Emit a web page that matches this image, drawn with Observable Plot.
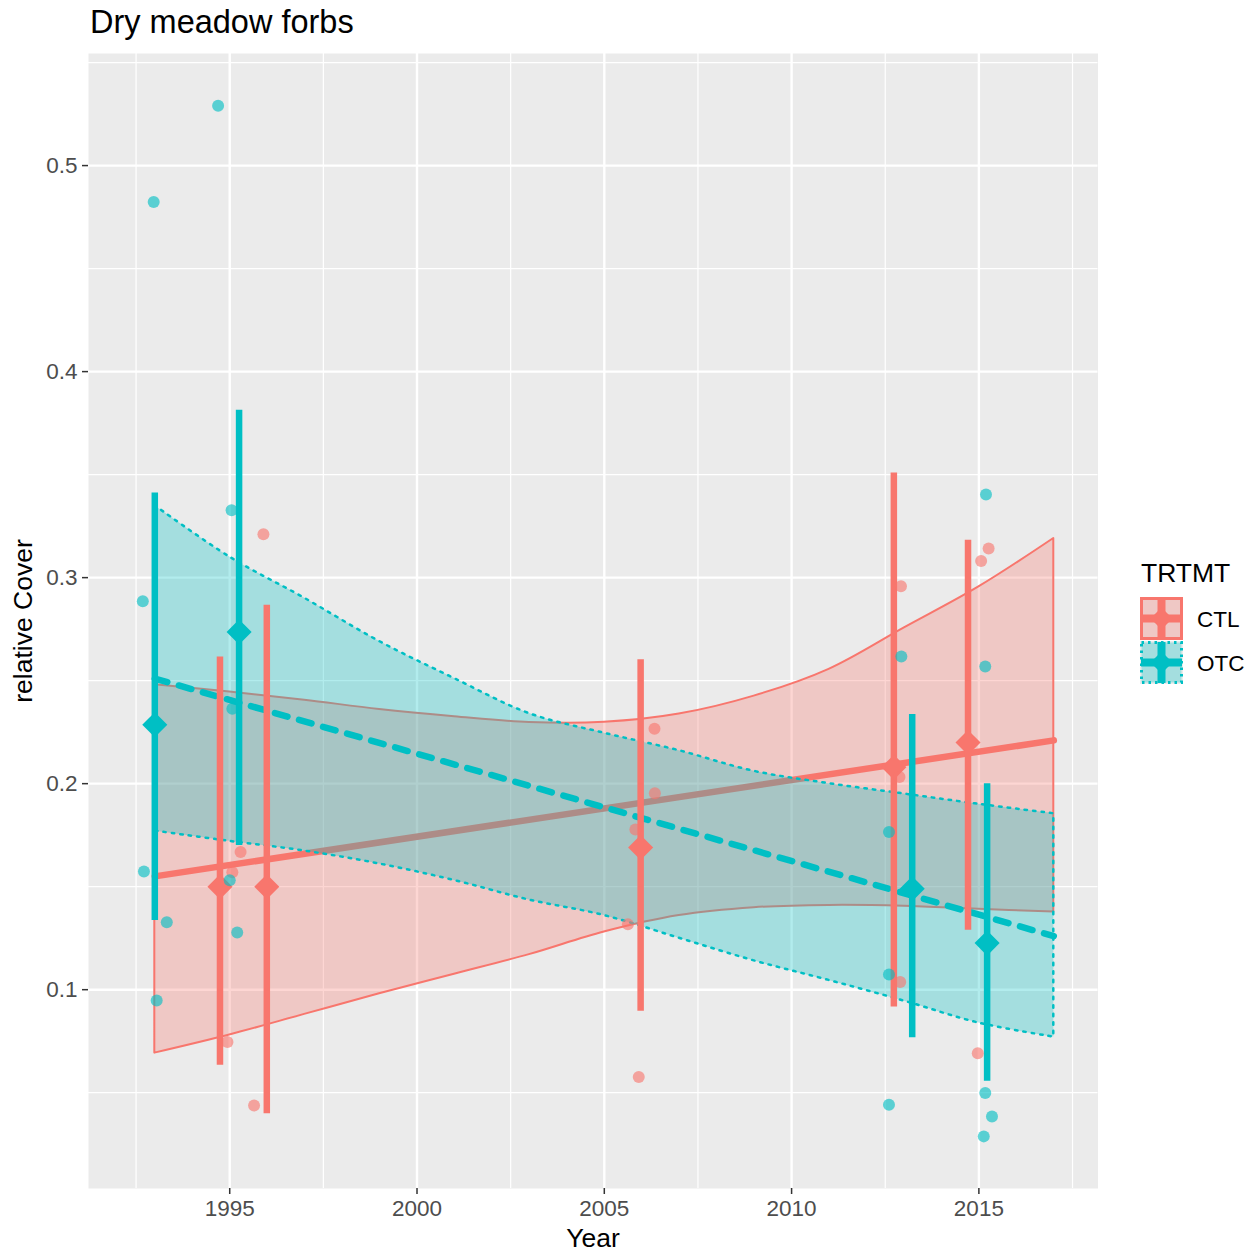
<!DOCTYPE html>
<html><head><meta charset="utf-8">
<script src="https://cdn.jsdelivr.net/npm/d3@7"></script>
<script src="https://cdn.jsdelivr.net/npm/@observablehq/plot@0.6"></script>
<style>
html,body{margin:0;padding:0;background:#fff;}
#wrap{position:relative;width:1253px;height:1253px;font-family:"Liberation Sans",Arial,sans-serif;}
#wrap svg{position:absolute;left:0;top:0;}
</style></head><body><div id="wrap"></div>
<script>
// ---- data ----
const groups = ["CTL", "OTC"];
const xTicks = [1995, 2000, 2005, 2010, 2015];
const xMinor = [1992.5, 1997.5, 2002.5, 2007.5, 2012.5, 2017.5];
const yTicks = [0.1, 0.2, 0.3, 0.4, 0.5];
const yMinor = [0.05, 0.15, 0.25, 0.35, 0.45, 0.55];

// confidence ribbons (lm fits)
const ribbonYears = [1993, 1995, 1997, 1999, 2001, 2003, 2005, 2007, 2009, 2011, 2013, 2015, 2017];
const ctlUpper = [0.248, 0.2445, 0.2405, 0.236, 0.2325, 0.2297, 0.2298, 0.2338, 0.2425, 0.2555, 0.2755, 0.2955, 0.319];
const ctlLower = [0.0692, 0.078, 0.088, 0.098, 0.1075, 0.117, 0.128, 0.136, 0.1398, 0.1409, 0.1405, 0.139, 0.1377];
const otcUpper = [0.335, 0.310, 0.290, 0.269, 0.251, 0.234, 0.2245, 0.216, 0.206, 0.2, 0.195, 0.19, 0.1854];
const otcLower = [0.177, 0.172, 0.1673, 0.161, 0.153, 0.1435, 0.136, 0.125, 0.114, 0.1045, 0.0945, 0.0838, 0.077];

// fitted lines
const fitYears = [1993, 2017];
const ctlFit = [0.155, 0.221];
const otcFit = [0.251, 0.126];

// means with error bars
const ctlMeanYear = [1994.74, 1995.99, 2005.97, 2012.73, 2014.71];
const ctlMean = [0.150, 0.150, 0.169, 0.208, 0.220];
const ctlMeanLo = [0.0633, 0.0398, 0.0895, 0.0916, 0.1288];
const ctlMeanHi = [0.2615, 0.2866, 0.2602, 0.3508, 0.3181];
const otcMeanYear = [1993.0, 1995.25, 2013.22, 2015.22];
const otcMean = [0.2286, 0.2736, 0.149, 0.1226];
const otcMeanLo = [0.1336, 0.170, 0.0767, 0.0556];
const otcMeanHi = [0.3411, 0.3812, 0.2336, 0.200];

// raw (jittered) observations
const ctlPtYear = [1995.9, 1995.29, 1995.07, 1994.94, 1995.65, 2005.92, 2006.34, 2006.35, 2005.83, 2005.63, 2012.92, 2012.88, 2012.9, 2015.26, 2015.06, 2014.97];
const ctlPtValue = [0.321, 0.1668, 0.157, 0.0746, 0.0438, 0.0576, 0.2267, 0.1954, 0.1777, 0.1317, 0.2958, 0.2032, 0.1037, 0.3141, 0.3081, 0.0692];
const otcPtYear = [1992.68, 1992.97, 1992.71, 1993.32, 1993.05, 1994.69, 1995.05, 1995.07, 1995.0, 1995.2, 2012.6, 2012.6, 2012.6, 2012.93, 2015.19, 2015.17, 2015.17, 2015.35, 2015.13];
const otcPtValue = [0.2885, 0.4823, 0.1574, 0.1327, 0.0948, 0.529, 0.3327, 0.2364, 0.1531, 0.1278, 0.1765, 0.1074, 0.0442, 0.2617, 0.3403, 0.2569, 0.0498, 0.0385, 0.0288];

// ---- build tables ----
const colors = {CTL: "#F8766D", OTC: "#00BFC4"};
const ribCTL = ribbonYears.map((x, i) => ({x, lo: ctlLower[i], hi: ctlUpper[i]}));
const ribOTC = ribbonYears.map((x, i) => ({x, lo: otcLower[i], hi: otcUpper[i]}));
const fitCTL = fitYears.map((x, i) => ({x, y: ctlFit[i]}));
const fitOTC = fitYears.map((x, i) => ({x, y: otcFit[i]}));
const meanCTL = ctlMeanYear.map((x, i) => ({x, y: ctlMean[i], lo: ctlMeanLo[i], hi: ctlMeanHi[i]}));
const meanOTC = otcMeanYear.map((x, i) => ({x, y: otcMean[i], lo: otcMeanLo[i], hi: otcMeanHi[i]}));
const ptCTL = ctlPtYear.map((x, i) => ({x, y: ctlPtValue[i]}));
const ptOTC = otcPtYear.map((x, i) => ({x, y: otcPtValue[i]}));

const FONT = '"Liberation Sans", Arial, sans-serif';

const chart = Plot.plot({
  width: 1253, height: 1253,
  marginLeft: 88, marginRight: 155.5, marginTop: 53, marginBottom: 65,
  x: {domain: [1991.23, 2018.18]},
  y: {domain: [0.0035, 0.5544]},
  style: {fontFamily: FONT, fontSize: "22.5px", background: "transparent", overflow: "visible"},
  marks: [
    Plot.frame({fill: "#EBEBEB", stroke: "none"}),
    Plot.ruleX(xMinor, {stroke: "#fff", strokeWidth: 1.2}),
    Plot.ruleY(yMinor, {stroke: "#fff", strokeWidth: 1.2}),
    Plot.ruleX(xTicks, {stroke: "#fff", strokeWidth: 2.4}),
    Plot.ruleY(yTicks, {stroke: "#fff", strokeWidth: 2.4}),
    Plot.areaY(ribCTL, {x: "x", y1: "lo", y2: "hi", curve: "catmull-rom", fill: colors.CTL, fillOpacity: 0.3, stroke: colors.CTL, strokeWidth: 2}),
    Plot.line(fitCTL, {x: "x", y: "y", stroke: colors.CTL, strokeWidth: 6.5}),
    Plot.areaY(ribOTC, {x: "x", y1: "lo", y2: "hi", curve: "catmull-rom", fill: colors.OTC, fillOpacity: 0.3, stroke: colors.OTC, strokeWidth: 2.5, strokeDasharray: "2.5,6"}),
    Plot.line(fitOTC, {x: "x", y: "y", stroke: colors.OTC, strokeWidth: 6.5, strokeDasharray: "13,12"}),
    Plot.ruleX(meanCTL, {x: "x", y1: "lo", y2: "hi", stroke: colors.CTL, strokeWidth: 6.5}),
    Plot.dot(meanCTL, {x: "x", y: "y", symbol: "diamond2", r: 11.3, fill: colors.CTL, stroke: "none"}),
    Plot.ruleX(meanOTC, {x: "x", y1: "lo", y2: "hi", stroke: colors.OTC, strokeWidth: 6.5}),
    Plot.dot(meanOTC, {x: "x", y: "y", symbol: "diamond2", r: 11.3, fill: colors.OTC, stroke: "none"}),
    Plot.dot(ptCTL, {x: "x", y: "y", r: 6, fill: colors.CTL, fillOpacity: 0.62, stroke: "none"}),
    Plot.dot(ptOTC, {x: "x", y: "y", r: 6, fill: colors.OTC, fillOpacity: 0.62, stroke: "none"}),
    Plot.axisX(xTicks, {tickSize: 6, tickPadding: 6, fontSize: 22.5, fill: "#4D4D4D", stroke: "#333", strokeWidth: 1.5, tickFormat: d => String(d), label: null}),
    Plot.axisY(yTicks, {tickSize: 6, tickPadding: 5, fontSize: 22.5, fill: "#4D4D4D", stroke: "#333", strokeWidth: 1.5, tickFormat: d3.format(".1f"), label: null})
  ]
});
document.getElementById("wrap").appendChild(chart);

// ---- overlay: titles and legend ----
const ov = d3.select("#wrap").append("svg")
  .attr("width", 1253).attr("height", 1253)
  .style("font-family", FONT).style("pointer-events", "none");

ov.append("text").attr("x", 90).attr("y", 33).attr("font-size", 32.5).attr("fill", "#000").text("Dry meadow forbs");
ov.append("text").attr("x", 593).attr("y", 1247).attr("font-size", 26.5).attr("fill", "#000").attr("text-anchor", "middle").text("Year");
ov.append("text").attr("transform", "translate(32,621) rotate(-90)").attr("font-size", 26.5).attr("fill", "#000").attr("text-anchor", "middle").text("relative Cover");

ov.append("text").attr("x", 1141).attr("y", 582).attr("font-size", 26.5).attr("fill", "#000").text("TRTMT");
const keyTop = {CTL: 597, OTC: 641};
const keyDash = {CTL: null, OTC: "2.5,4"};
groups.forEach(g => {
  const x0 = 1140, y0 = keyTop[g], s = 43, c = colors[g];
  const k = ov.append("g");
  k.append("rect").attr("x", x0).attr("y", y0).attr("width", s).attr("height", s).attr("fill", "#EBEBEB");
  k.append("rect").attr("x", x0 + 1.5).attr("y", y0 + 1.5).attr("width", s - 3).attr("height", s - 3)
    .attr("fill", c).attr("fill-opacity", 0.3).attr("stroke", c).attr("stroke-width", 3)
    .attr("stroke-dasharray", keyDash[g]);
  k.append("line").attr("x1", x0 + 1).attr("x2", x0 + s - 1).attr("y1", y0 + s / 2).attr("y2", y0 + s / 2)
    .attr("stroke", c).attr("stroke-width", 8);
  k.append("line").attr("x1", x0 + s / 2).attr("x2", x0 + s / 2).attr("y1", y0 + 1).attr("y2", y0 + s - 1)
    .attr("stroke", c).attr("stroke-width", 8);
  const cx = x0 + s / 2, cy = y0 + s / 2, h = 11;
  k.append("path").attr("d", `M${cx},${cy - h}L${cx + h},${cy}L${cx},${cy + h}L${cx - h},${cy}Z`).attr("fill", c);
  ov.append("text").attr("x", 1197).attr("y", y0 + s / 2 + 8).attr("font-size", 22.5).attr("fill", "#000").text(g);
});
</script>
</body></html>
